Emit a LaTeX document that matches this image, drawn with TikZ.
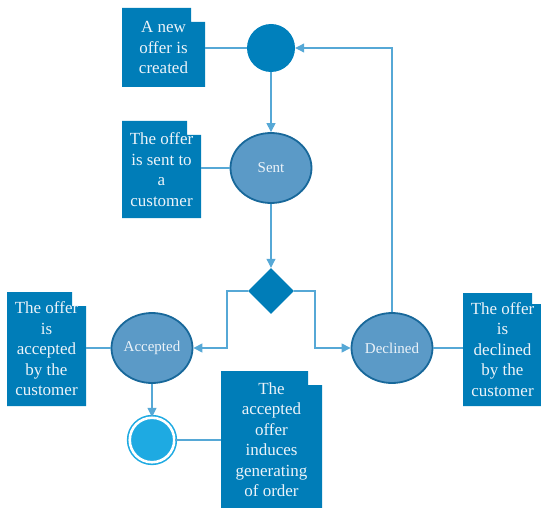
\documentclass[tikz,border=0pt]{standalone}
\usepackage{fontspec}
\setmainfont{Liberation Serif}
\usetikzlibrary{shapes.geometric,arrows.meta}

\definecolor{notefill}{RGB}{0,125,184}
\definecolor{statefill}{RGB}{91,154,199}
\definecolor{stateline}{RGB}{24,104,154}
\definecolor{startfill}{RGB}{0,128,188}
\definecolor{endblue}{RGB}{30,170,226}
\definecolor{linkblue}{RGB}{86,168,214}
\definecolor{paletext}{RGB}{236,243,249}

% Note card with a stepped upper-right corner, carrying a named text node
% #1 name, #2 left, #3 top, #4 right, #5 bottom, #6 step x, #7 step y, #8 text
\newcommand\offernote[8]{%
  \fill[notefill] (#2,#5) -- (#2,#3) -- (#6,#3) -- (#6,#7) -- (#4,#7) -- (#4,#5) -- cycle;
  \node[notetext, minimum width={#4-#2}, minimum height={#5-#3}]
    (#1) at ({(#2+#4)/2},{(#3+#5)/2}) {#8};
}

\begin{document}
\begin{tikzpicture}[x=1pt, y=-1pt,
  notetext/.style={inner sep=0pt, outer sep=0pt, align=center, text=paletext,
    font=\fontsize{17}{20.5}\selectfont},
  state/.style={ellipse, fill=statefill, draw=stateline, line width=1.8pt,
    minimum width=81pt, minimum height=70pt, inner sep=0pt, text=paletext,
    font=\fontsize{15}{17}\selectfont},
  startnode/.style={circle, fill=startfill, minimum size=48pt, inner sep=0pt},
  endnode/.style={circle, fill=endblue, draw=endblue, line width=1.6pt,
    double=white, double distance=2.6pt, minimum size=44.5pt, inner sep=0pt},
  choice/.style={diamond, fill=notefill, minimum width=46pt, minimum height=46pt,
    inner sep=0pt, aspect=1},
  link/.style={draw=linkblue, line width=1.1pt},
  flow/.style={link, -{Triangle[length=9pt,width=9pt]}},
]
\useasboundingbox (0,0) rectangle (541,508);

% states
\node[startnode] (start) at (271,48) {};
\node[state] (sent) at (271,168) {Sent};
\node[choice] (dia) at (271,291) {};
\node[state] (acc) at (152,348) {Accepted};
\node[state] (dec) at (392,348) {Declined};
\node[endnode] (end) at (152,440) {};

% notes
\offernote{n1}{122}{8}{205}{87}{191}{22}{A new\\offer is\\created}
\offernote{n2}{122}{121}{201}{218}{187}{135}{The offer\\is sent to\\a\\customer}
\offernote{n3}{7}{292}{86}{406}{72}{306}{The offer\\is\\accepted\\by the\\customer}
\offernote{n4}{463}{293}{542}{406}{532}{304}{The offer\\is\\declined\\by the\\customer}
\offernote{n5}{221}{371}{322}{508}{308}{385}{The\\accepted\\offer\\induces\\generating\\of order}

% bends of the branches
\coordinate (lbend) at (227,291);
\coordinate (rbend) at (315,291);

% control flow
\draw[flow] (start) -- (sent);
\draw[flow] (sent) -- (dia);
\draw[flow] (dia.west) -- (lbend) |- (acc.east);
\draw[flow] (dia.east) -- (rbend) |- (dec.west);
\draw[flow] (dec.north) |- (start.east);
\draw[flow] (acc) -- (end);

% note attachments
\draw[link] (start.west -| n1.east) -- (start.west);
\draw[link] (sent.west -| n2.east) -- (sent.west);
\draw[link] (acc.west -| n3.east) -- (acc.west);
\draw[link] (dec.east) -- (dec.east -| n4.west);
\draw[link] (end.east) -- (end.east -| n5.west);
\end{tikzpicture}
\end{document}
